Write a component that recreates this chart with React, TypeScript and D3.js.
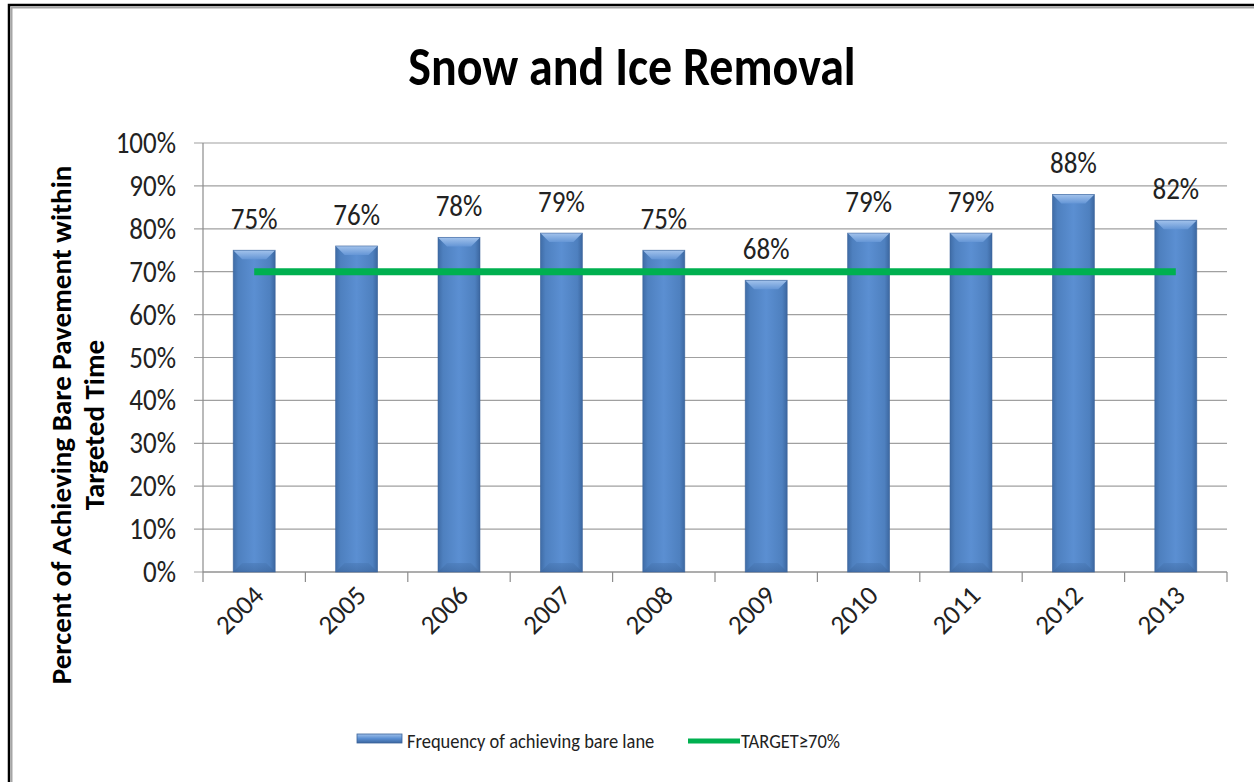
import React from 'react';
import * as d3 from 'd3';

// Yearly share of events where bare pavement was achieved within the targeted time
const years = ['2004', '2005', '2006', '2007', '2008', '2009', '2010', '2011', '2012', '2013'];
const rates = [75, 76, 78, 79, 75, 68, 79, 79, 88, 82];
const targetRate = 70;
const yTicks = [0, 10, 20, 30, 40, 50, 60, 70, 80, 90, 100];

const seriesName = 'Frequency of achieving bare lane';
const targetName = 'TARGET\u226570%';
const title = 'Snow and Ice Removal';
const yTitleLines = ['Percent of Achieving Bare Pavement within', 'Targeted Time'];

const W = 1254;
const H = 782;
const plot = { left: 203, right: 1227, top: 143, bottom: 572 };
const FONT = "Carlito, Lato, 'Open Sans', sans-serif";
const STRETCH = 1.14;

// Horizontal text with the slightly tall letterforms used across the chart
function TallText(props: {
  x: number;
  y: number;
  size: number;
  anchor?: 'start' | 'middle' | 'end';
  bold?: boolean;
  fill?: string;
  dy?: string;
  children: React.ReactNode;
}) {
  const { x, y, size, anchor = 'start', bold = false, fill = '#222', dy, children } = props;
  return (
    <text
      transform={`translate(${x},${y}) scale(1,${STRETCH})`}
      x={0}
      y={0}
      dy={dy}
      textAnchor={anchor}
      fontSize={size}
      fontWeight={bold ? 'bold' : 'normal'}
      fill={fill}
    >
      {children}
    </text>
  );
}

export default function App() {
  const x = d3.scaleBand<string>().domain(years).range([plot.left, plot.right]).padding(0);
  const y = d3.scaleLinear().domain([0, 100]).range([plot.bottom, plot.top]);
  const bw = x.bandwidth() * 0.41;
  const bevel = 9;
  const center = (yr: string) => (x(yr) as number) + x.bandwidth() / 2;

  const boundaries = years.map((yr) => x(yr) as number).concat([plot.right]);

  return (
    <svg
      width={W}
      height={H}
      style={{ position: 'fixed', left: 0, top: 0, display: 'block', background: '#fff' }}
      fontFamily={FONT}
    >
      <defs>
        <linearGradient id="barBody" x1="0" x2="1" y1="0" y2="0">
          <stop offset="0" stopColor="#3f6ca6" />
          <stop offset="0.12" stopColor="#4e80bf" />
          <stop offset="0.5" stopColor="#5b8fd2" />
          <stop offset="0.88" stopColor="#4e80bf" />
          <stop offset="1" stopColor="#3c67a0" />
        </linearGradient>
        <linearGradient id="barTop" x1="0" x2="0" y1="0" y2="1">
          <stop offset="0" stopColor="#a3c3ec" />
          <stop offset="1" stopColor="#6596d6" />
        </linearGradient>
        <linearGradient id="barBottom" x1="0" x2="0" y1="0" y2="1">
          <stop offset="0" stopColor="#4a7ab7" />
          <stop offset="1" stopColor="#3b659c" />
        </linearGradient>
        <linearGradient id="legendSwatch" x1="0" x2="0" y1="0" y2="1">
          <stop offset="0" stopColor="#9fc0ea" />
          <stop offset="0.5" stopColor="#5b8fd2" />
          <stop offset="1" stopColor="#3c67a0" />
        </linearGradient>
      </defs>

      {/* chart frame */}
      <rect x={9} y={5} width={W + 40} height={H + 40} fill="#fff" stroke="#000" strokeWidth={2.5} />
      <rect x={11.5} y={7.5} width={W + 40} height={H + 40} fill="none" stroke="#a6a6a6" strokeWidth={2} />

      {/* title */}
      <TallText x={632} y={85} size={48} anchor="middle" bold fill="#000">
        {title}
      </TallText>

      {/* horizontal gridlines and y ticks */}
      {yTicks.map((t) => (
        <g key={t}>
          <line x1={plot.left - 9} x2={plot.right} y1={y(t)} y2={y(t)} stroke="#a0a0a0" strokeWidth={1.2} />
          <TallText x={176} y={y(t) + 10} size={27} anchor="end">
            {t}%
          </TallText>
        </g>
      ))}

      {/* axes */}
      <line x1={plot.left} x2={plot.left} y1={plot.top} y2={plot.bottom} stroke="#8c8c8c" strokeWidth={1.2} />
      <line x1={plot.left} x2={plot.right} y1={plot.bottom} y2={plot.bottom} stroke="#8c8c8c" strokeWidth={1.2} />
      {boundaries.map((bx, i) => (
        <line key={i} x1={bx} x2={bx} y1={plot.bottom} y2={plot.bottom + 10} stroke="#8c8c8c" strokeWidth={1.2} />
      ))}

      {/* bars */}
      {years.map((yr, i) => {
        const cx = center(yr);
        const x0 = cx - bw / 2;
        const x1 = cx + bw / 2;
        const top = y(rates[i]);
        const base = y(0);
        return (
          <g key={yr}>
            <rect x={x0} y={top} width={bw} height={base - top} fill="url(#barBody)" />
            <polygon
              points={`${x0},${top} ${x1},${top} ${x1 - bevel},${top + bevel} ${x0 + bevel},${top + bevel}`}
              fill="url(#barTop)"
            />
            <polygon
              points={`${x0},${base} ${x1},${base} ${x1 - bevel},${base - bevel} ${x0 + bevel},${base - bevel}`}
              fill="url(#barBottom)"
              opacity={0.6}
            />
            <rect x={x0} y={top} width={bw} height={base - top} fill="none" stroke="#3a639a" strokeWidth={0.8} opacity={0.7} />
          </g>
        );
      })}

      {/* target line */}
      <line
        x1={center(years[0])}
        x2={center(years[years.length - 1])}
        y1={y(targetRate)}
        y2={y(targetRate)}
        stroke="#00b050"
        strokeWidth={7}
      />

      {/* value labels */}
      {years.map((yr, i) => (
        <TallText key={yr} x={center(yr)} y={y(rates[i]) - 21} size={27} anchor="middle">
          {rates[i]}%
        </TallText>
      ))}

      {/* x labels */}
      {years.map((yr) => {
        const lx = center(yr) + 11;
        const ly = plot.bottom + 25;
        return (
          <text
            key={yr}
            x={lx}
            y={ly}
            textAnchor="end"
            fontSize={27}
            fill="#222"
            transform={`rotate(-45 ${lx} ${ly})`}
          >
            {yr}
          </text>
        );
      })}

      {/* y axis title */}
      <g transform="translate(0,425) rotate(-90)">
        <text x={0} y={71} textAnchor="middle" fontSize={29} fontWeight="bold" fill="#000">
          {yTitleLines[0]}
        </text>
        <text x={0} y={104} textAnchor="middle" fontSize={29} fontWeight="bold" fill="#000">
          {yTitleLines[1]}
        </text>
      </g>

      {/* legend */}
      <rect x={357} y={734} width={45} height={9} fill="url(#legendSwatch)" stroke="#3a639a" strokeWidth={0.8} />
      <TallText x={407} y={748} size={18.5}>
        {seriesName}
      </TallText>
      <line x1={688} x2={740} y1={741} y2={741} stroke="#00b050" strokeWidth={5} />
      <TallText x={741} y={748} size={18.5}>
        {targetName}
      </TallText>
    </svg>
  );
}
